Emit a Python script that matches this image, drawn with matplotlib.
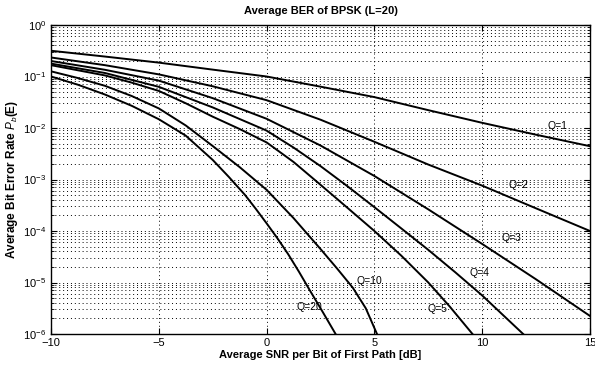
import numpy as np
import matplotlib
matplotlib.use("Agg")
import matplotlib.pyplot as plt
from matplotlib.ticker import LogLocator, NullFormatter

plt.rcParams['font.family'] = ['Liberation Sans', 'DejaVu Sans']
plt.rcParams['mathtext.fontset'] = 'custom'
plt.rcParams['mathtext.rm'] = 'Liberation Sans'
plt.rcParams['mathtext.it'] = 'Liberation Sans:italic'
plt.rcParams['mathtext.bf'] = 'Liberation Sans:bold'

title = "Average BER of BPSK (L=20)"
xlabel = "Average SNR per Bit of First Path [dB]"
ylabel = "Average Bit Error Rate $P_b$(E)"

snr_q1 = [-10, -7.5, -5, -2.5, 0, 2.5, 5, 7.5, 10, 12.5, 15]
ber_q1 = [0.316, 0.244, 0.186, 0.136, 0.100, 0.0635, 0.0398, 0.0222, 0.0126, 0.0074, 0.00443]

snr_q2 = [-10, -7.5, -5, -2.5, 0, 2.5, 5, 7.5, 10, 12.5, 15]
ber_q2 = [0.234, 0.166, 0.110, 0.0646, 0.0347, 0.0145, 5.4e-3, 1.95e-3, 7.6e-4, 2.75e-4, 1.0e-4]

snr_q3 = [-10, -7.5, -5, -2.5, 0, 2.5, 5, 7.5, 10, 12.5, 15]
ber_q3 = [0.200, 0.135, 0.0832, 0.038, 0.0151, 4.57e-3, 1.17e-3, 2.63e-4, 5.6e-5, 1.15e-5, 2.24e-6]

snr_q4 = [-10, -7.5, -5, -2.5, 0, 1.25, 2.5, 3.75, 5, 6.25, 7.5, 8.75, 10, 11.9]
ber_q4 = [0.178, 0.117, 0.063, 0.0251, 8.9e-3, 4.17e-3, 1.82e-3, 7.4e-4, 2.9e-4,
          1.12e-4, 4.3e-5, 1.58e-5, 5.6e-6, 1.0e-6]

snr_q5 = [-10, -7.5, -6.25, -5, -3.75, -2.5, -1.25, 0, 1.25, 2.5, 3.75, 5, 6.25, 7.5, 8.5, 9.55]
ber_q5 = [0.166, 0.105, 0.0759, 0.0525, 0.0302, 0.0166, 9.55e-3, 5.25e-3, 2.19e-3, 7.9e-4,
          2.82e-4, 1.0e-4, 3.31e-5, 1.0e-5, 3.39e-6, 1.0e-6]

snr_q10 = [-10, -8.75, -7.5, -6.25, -5, -3.75, -2.5, -1.25, 0, 1.25, 2.5, 3.25, 4.0, 4.6, 5.12]
ber_q10 = [0.126, 0.0933, 0.066, 0.0417, 0.024, 0.0112, 4.47e-3, 1.74e-3, 6.3e-4, 1.78e-4,
           4.47e-5, 1.91e-5, 7.9e-6, 3.16e-6, 1.0e-6]

snr_q20 = [-10, -8.75, -7.5, -6.25, -5, -3.75, -2.5, -1.75, -1, -0.5, 0, 0.5, 1, 1.5, 2, 2.6, 3.2]
ber_q20 = [0.100, 0.0692, 0.0447, 0.0269, 0.0148, 7.1e-3, 2.4e-3, 1.12e-3, 5.0e-4, 2.69e-4,
           1.41e-4, 7.24e-5, 3.55e-5, 1.62e-5, 7.1e-6, 2.69e-6, 1.0e-6]

curve_labels = ["Q=1", "Q=2", "Q=3", "Q=4", "Q=5", "Q=10", "Q=20"]
label_x = [13.47, 11.67, 11.34, 9.86, 7.92, 4.77, 1.99]
label_y = [1.08e-2, 7.8e-4, 7.2e-5, 1.55e-5, 3.1e-6, 1.05e-5, 3.4e-6]

x_ticks = [-10, -5, 0, 5, 10, 15]

series = [(snr_q1, ber_q1), (snr_q2, ber_q2), (snr_q3, ber_q3), (snr_q4, ber_q4),
          (snr_q5, ber_q5), (snr_q10, ber_q10), (snr_q20, ber_q20)]

fig = plt.figure(figsize=(5.95, 3.69), dpi=100)
ax = fig.add_axes([51/595, 1-334/369, (590-51)/595, (334-25)/369])

for s, b in series:
    ax.plot(s, b, color='black', lw=1.4, solid_joinstyle='round')

for t, lx, ly in zip(curve_labels, label_x, label_y):
    ax.text(lx, ly, t, fontsize=7.5, ha='center', va='center', color='black')

ax.set_yscale('log')
ax.set_xlim(-10, 15)
ax.set_ylim(1e-6, 1)
ax.set_xticks(x_ticks)
ax.set_xticklabels([str(v).replace('-', '\u2212') for v in x_ticks])
ax.yaxis.set_major_locator(LogLocator(base=10, numticks=10))
ax.yaxis.set_minor_locator(LogLocator(base=10, subs=np.arange(2, 10), numticks=20))
ax.yaxis.set_minor_formatter(NullFormatter())

ax.xaxis.grid(True, which='major', linestyle=(0, (1, 3)), color='black', lw=0.7)
ax.yaxis.grid(True, which='both', linestyle=(0, (1, 3)), color='black', lw=0.7)

ax.tick_params(which='both', direction='in', top=True, right=True, labelsize=8)
ax.tick_params(which='major', length=4, width=0.8)
ax.tick_params(which='minor', length=2, width=0.6)
ax.tick_params(axis='x', pad=3)
for sp in ax.spines.values():
    sp.set_linewidth(1.0)

ax.set_title(title, fontsize=8, fontweight='bold', pad=8)
ax.set_xlabel(xlabel, fontsize=8, fontweight='bold', labelpad=1)
ax.set_ylabel(ylabel, fontsize=8.5, fontweight='bold', labelpad=2)

fig.savefig("out.png", dpi=100)
